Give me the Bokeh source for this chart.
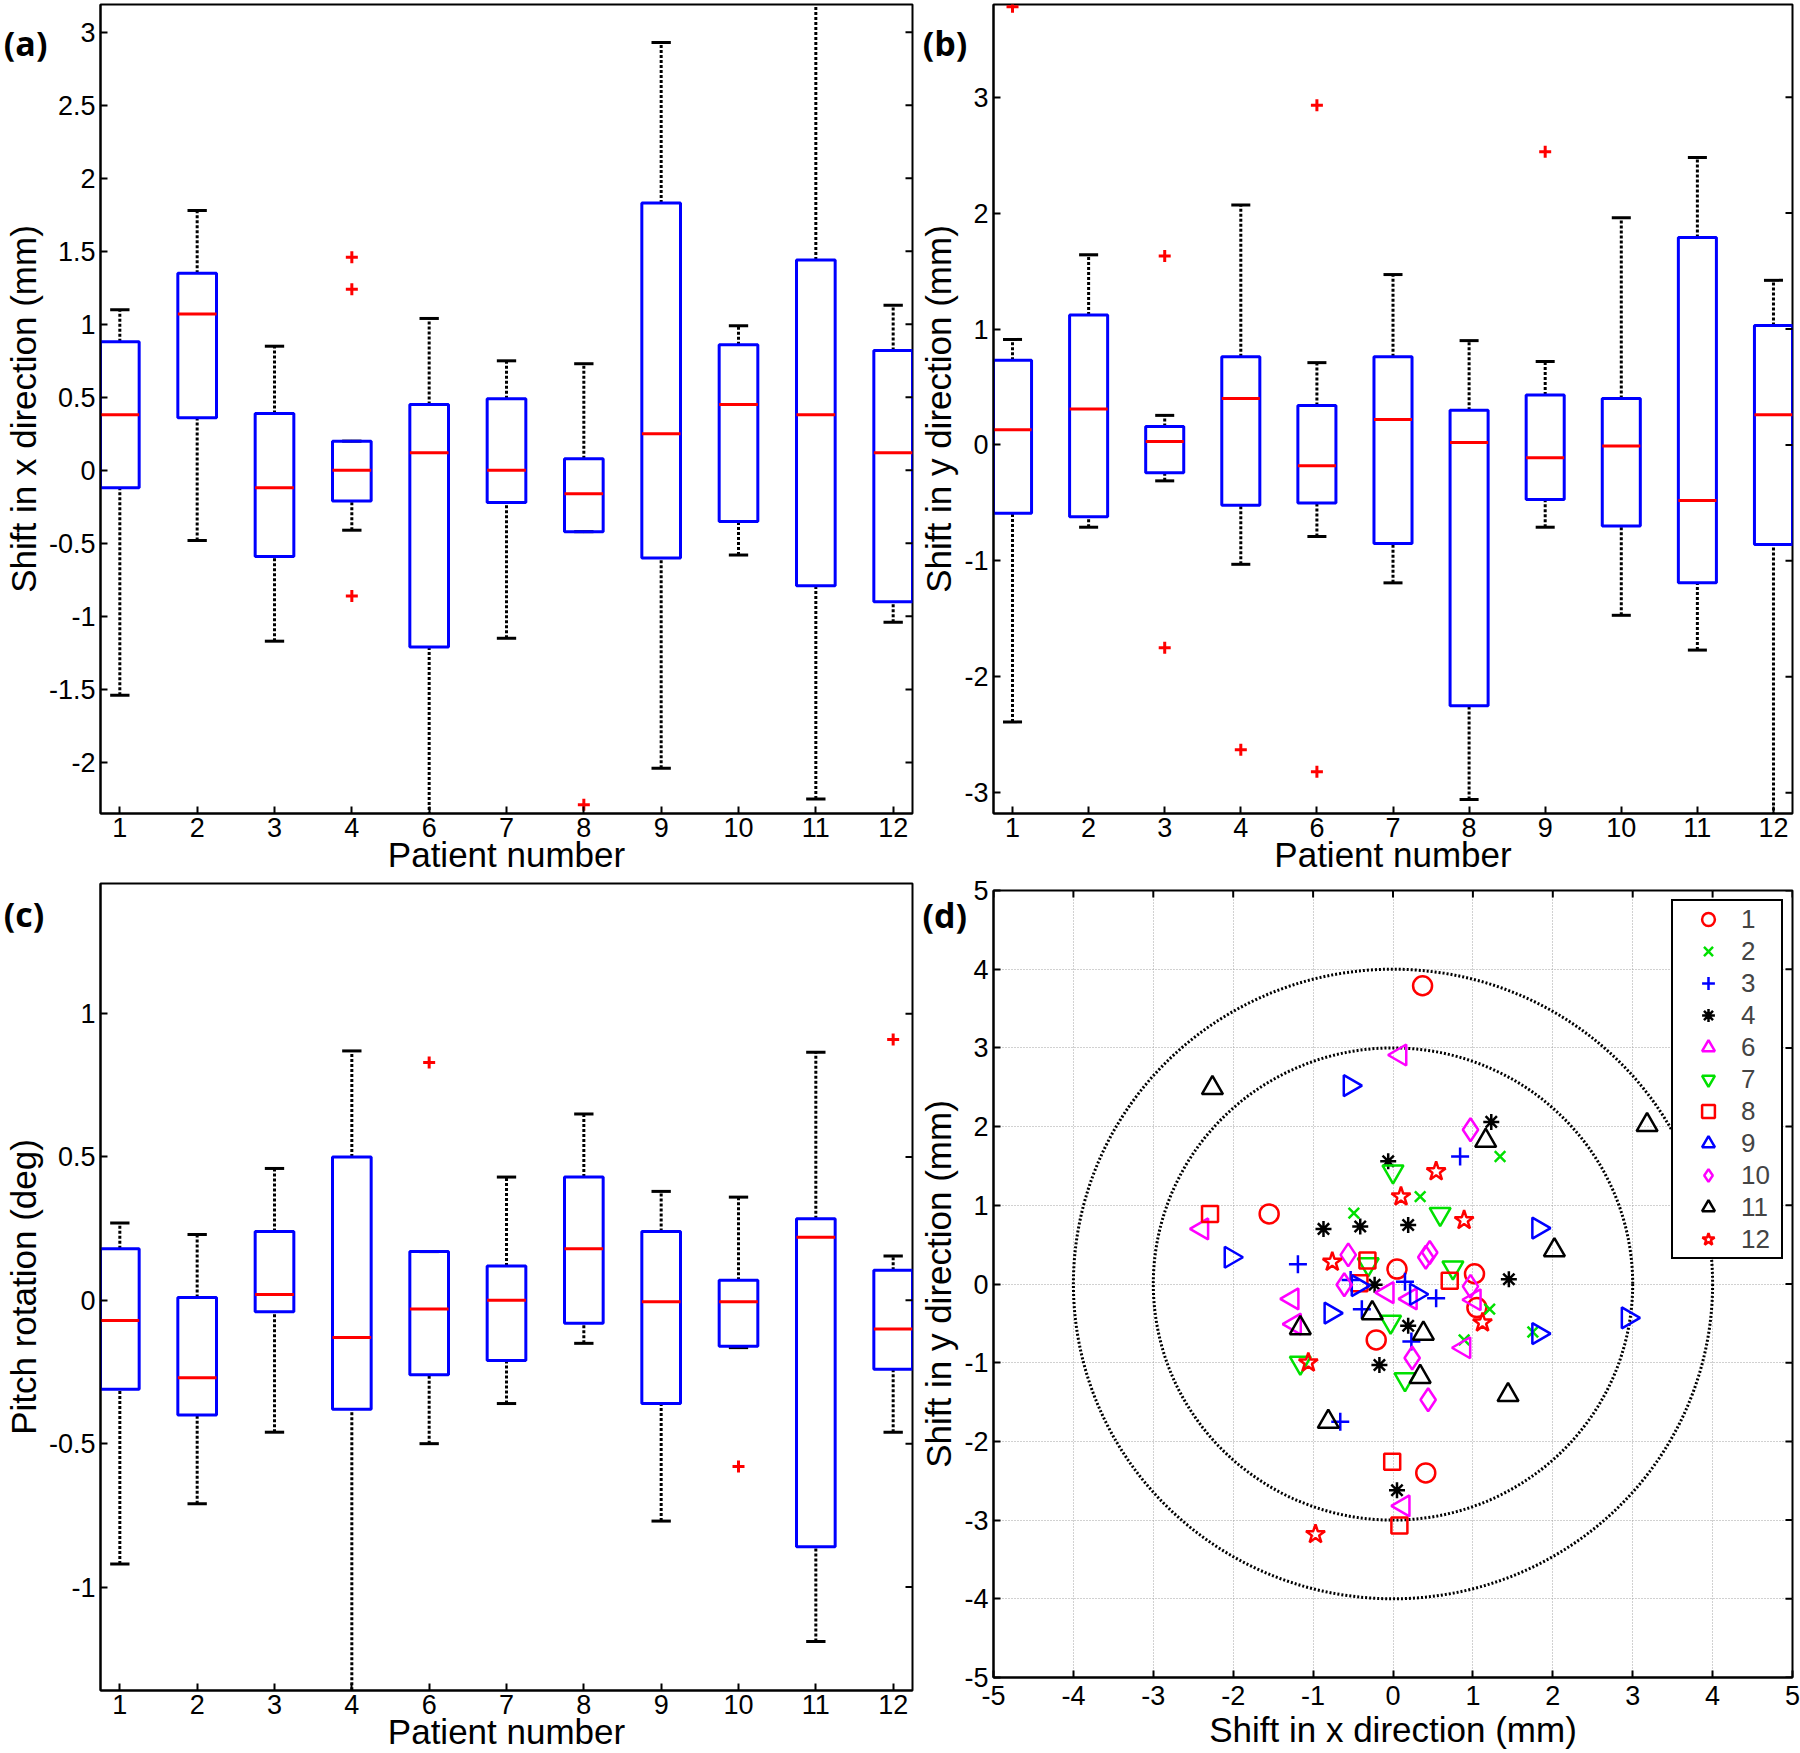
import numpy as np
from bokeh.plotting import figure
from bokeh.models import FixedTicker, CustomJSTickFormatter, ColumnDataSource
from bokeh.core.properties import value
from bokeh.layouts import row, column
from bokeh.embed import file_html
from bokeh.resources import INLINE

FONT = "Liberation Sans"
TAG_FONT = "Open Sans"

# ---------------- data ----------------
patients = ["1", "2", "3", "4", "6", "7", "8", "9", "10", "11", "12"]

# (a) shift in x direction (mm)
a_low = [-1.54, -0.48, -1.17, -0.41, -2.6, -1.15, -0.42, -2.04, -0.58, -2.25, -1.04]
a_q1 = [-0.12, 0.36, -0.59, -0.21, -1.21, -0.22, -0.42, -0.60, -0.35, -0.79, -0.90]
a_med = [0.38, 1.07, -0.12, 0.0, 0.12, 0.0, -0.16, 0.25, 0.45, 0.38, 0.12]
a_q3 = [0.88, 1.35, 0.39, 0.20, 0.45, 0.49, 0.08, 1.83, 0.86, 1.44, 0.82]
a_high = [1.10, 1.78, 0.85, 0.20, 1.04, 0.75, 0.73, 2.93, 0.99, 3.4, 1.13]
a_out_pat = ["4", "4", "4", "8"]
a_out_val = [1.46, 1.24, -0.86, -2.29]
a_yticks = [-2, -1.5, -1, -0.5, 0, 0.5, 1, 1.5, 2, 2.5, 3]

# (b) shift in y direction (mm)
b_low = [-2.39, -0.71, -0.31, -1.03, -0.79, -1.19, -3.06, -0.71, -1.47, -1.77, -3.5]
b_q1 = [-0.59, -0.62, -0.24, -0.52, -0.50, -0.85, -2.25, -0.47, -0.70, -1.19, -0.86]
b_med = [0.13, 0.31, 0.03, 0.40, -0.18, 0.22, 0.02, -0.11, -0.01, -0.48, 0.26]
b_q3 = [0.73, 1.12, 0.16, 0.76, 0.34, 0.76, 0.30, 0.43, 0.40, 1.79, 1.03]
b_high = [0.91, 1.64, 0.255, 2.07, 0.71, 1.47, 0.90, 0.72, 1.96, 2.48, 1.42]
b_out_pat = ["1", "3", "3", "4", "6", "6", "9"]
b_out_val = [3.78, 1.63, -1.75, -2.63, 2.93, -2.82, 2.53]
b_yticks = [-3, -2, -1, 0, 1, 2, 3]

# (c) pitch rotation (deg)
c_low = [-0.92, -0.71, -0.46, -1.5, -0.50, -0.36, -0.15, -0.77, -0.165, -1.19, -0.46]
c_q1 = [-0.31, -0.40, -0.04, -0.38, -0.26, -0.21, -0.08, -0.36, -0.16, -0.86, -0.24]
c_med = [-0.07, -0.27, 0.02, -0.13, -0.03, 0.0, 0.18, -0.005, -0.005, 0.22, -0.10]
c_q3 = [0.18, 0.01, 0.24, 0.50, 0.17, 0.12, 0.43, 0.24, 0.07, 0.285, 0.105]
c_high = [0.27, 0.23, 0.46, 0.87, 0.17, 0.43, 0.65, 0.38, 0.36, 0.865, 0.155]
c_out_pat = ["6", "10", "12"]
c_out_val = [0.83, -0.58, 0.91]
c_yticks = [-1, -0.5, 0, 0.5, 1]

# (d) scatter of shifts per patient (x mm, y mm)
d1_x = [0.37, -1.55, 0.05, 1.02, -0.21, 0.41, 1.05]
d1_y = [3.79, 0.89, 0.19, 0.13, -0.71, -2.40, -0.30]
d2_x = [1.34, 0.34, -0.49, 1.21, 0.89, 1.75]
d2_y = [1.62, 1.11, 0.90, -0.32, -0.71, -0.61]
d3_x = [0.84, -1.19, 0.15, 0.54, -0.39, -0.53, 0.23, -0.66]
d3_y = [1.62, 0.25, 0.03, -0.18, -0.32, 0.05, -0.73, -1.75]
d4_x = [1.23, -0.06, -0.87, -0.41, 0.19, 1.45, -0.23, 0.19, -0.17, 0.05]
d4_y = [2.06, 1.56, 0.70, 0.73, 0.75, 0.06, -0.01, -0.53, -1.03, -2.62]
d6_x = [0.09, -2.39, -1.26, -1.23, -0.07, 0.22, 0.89, 0.13, 1.02]
d6_y = [2.91, 0.70, -0.19, -0.51, -0.11, -0.19, -0.81, -2.82, -0.20]
d7_x = [0.0, 0.59, -0.31, 0.75, -0.03, -1.16, 0.15]
d7_y = [1.43, 0.89, 0.25, 0.21, -0.48, -1.0, -1.21]
d8_x = [-2.29, -0.32, -0.42, 0.71, -0.01, 0.08]
d8_y = [0.89, 0.30, 0.01, 0.04, -2.26, -3.07]
d9_x = [-0.54, -2.03, 1.82, -0.78, -0.44, 0.29, 1.82, 2.94]
d9_y = [2.52, 0.34, 0.71, -0.37, -0.02, -0.13, -0.63, -0.43]
d10_x = [0.97, -0.56, 0.46, 0.41, -0.61, 0.97, 0.24, 0.44]
d10_y = [1.96, 0.37, 0.40, 0.34, -0.01, -0.03, -0.94, -1.47]
d11_x = [-2.26, 3.18, 1.16, 2.02, -0.26, 0.38, -1.16, 0.34, 1.44, -0.81]
d11_y = [2.49, 2.02, 1.82, 0.43, -0.37, -0.63, -0.56, -1.18, -1.41, -1.75]
d12_x = [0.54, 0.10, 0.89, -0.76, 1.12, -1.06, -0.97]
d12_y = [1.43, 1.11, 0.81, 0.28, -0.49, -1.0, -3.18]
d_ticks = [-5, -4, -3, -2, -1, 0, 1, 2, 3, 4, 5]
circle_radii = [3, 4]

d_series = [
    ("1", d1_x, d1_y), ("2", d2_x, d2_y), ("3", d3_x, d3_y), ("4", d4_x, d4_y),
    ("6", d6_x, d6_y), ("7", d7_x, d7_y), ("8", d8_x, d8_y), ("9", d9_x, d9_y),
    ("10", d10_x, d10_y), ("11", d11_x, d11_y), ("12", d12_x, d12_y),
]

# marker styles (not data)
STYLE = {
    "1": dict(marker="circle", color="#FF0000", size=19, angle=0.0),
    "2": dict(marker="x", color="#00E000", size=15, angle=0.0),
    "3": dict(marker="cross", color="#0000FF", size=18, angle=0.0),
    "4": dict(marker="asterisk", color="black", size=16, angle=0.0),
    "6": dict(marker="triangle", color="#FF00FF", size=21, angle=np.pi / 2),
    "7": dict(marker="inverted_triangle", color="#00E000", size=21, angle=0.0),
    "8": dict(marker="square", color="#FF0000", size=16, angle=0.0),
    "9": dict(marker="triangle", color="#0000FF", size=21, angle=-np.pi / 2),
    "10": dict(marker="diamond", color="#FF00FF", size=23, angle=0.0),
    "11": dict(marker="triangle", color="black", size=21, angle=0.0),
    "12": dict(marker="star", color="#FF0000", size=20, angle=0.0),
}

# layout (pixels): left/right borders per column, top/bottom per panel row
COL1 = dict(left=99, frame=813, right=4, ylab_standoff=3)
COL2 = dict(left=76, frame=800, right=8, ylab_standoff=3)
ROW1 = dict(top=4, frame=809, bottom=62)
ROW2C = dict(top=8, frame=807, bottom=62)
ROW2D = dict(top=15, frame=787, bottom=75)


def num_fmt():
    return CustomJSTickFormatter(code="return String(Math.round(tick*1000)/1000);")


def make_fig(col, rw, xr, yr):
    return figure(width=col["left"] + col["frame"] + col["right"],
                  height=rw["top"] + rw["frame"] + rw["bottom"],
                  x_range=xr, y_range=yr, output_backend="svg",
                  toolbar_location=None, tools="",
                  min_border_left=col["left"], min_border_right=col["right"],
                  min_border_top=rw["top"], min_border_bottom=rw["bottom"])


def style_axes(p, yticks, ylab, ylab_standoff, xtick_standoff):
    for ax in (p.xaxis[0], p.yaxis[0]):
        ax.axis_line_color = "black"
        ax.axis_line_width = 2
        ax.major_tick_line_color = "black"
        ax.major_tick_line_width = 2
        ax.major_tick_in = 7
        ax.major_tick_out = 0
        ax.minor_tick_line_color = None
        ax.major_label_text_font = FONT
        ax.major_label_text_font_size = "27px"
        ax.major_label_text_color = "black"
        ax.axis_label_text_font = FONT
        ax.axis_label_text_font_size = "35px"
        ax.axis_label_text_font_style = "normal"
        ax.axis_label_text_color = "black"
    p.yaxis[0].ticker = FixedTicker(ticks=yticks)
    p.yaxis[0].formatter = num_fmt()
    p.yaxis[0].major_label_standoff = 5
    p.yaxis[0].axis_label = ylab
    p.yaxis[0].axis_label_standoff = ylab_standoff
    p.xaxis[0].major_label_standoff = xtick_standoff
    p.outline_line_color = "black"
    p.outline_line_width = 2
    p.outline_line_alpha = 1.0
    p.background_fill_color = "white"
    p.border_fill_color = "white"


def overlay_text(p, x, y, text, font, size, bold, align):
    r = p.text(x=[x], y=[y], text=[text], text_font=value(font),
               text_font_size=size, text_font_style="bold" if bold else "normal",
               text_baseline="middle", text_align=align, text_color="black")
    r.level = "overlay"
    return r


def x_title(p, xr, yr, frame_h, px_below, text):
    units_per_px = (yr[1] - yr[0]) / frame_h
    overlay_text(p, (xr[0] + xr[1]) / 2, yr[0] - px_below * units_per_px, text,
                 FONT, "35px", False, "center")


def box_panel(col, rw, yr, low, q1, med, q3, high, out_pat, out_val,
              yticks, ylab, tag, tag_xy, title_px):
    xr = (0.75, 11.25)
    p = make_fig(col, rw, xr, yr)
    pos = np.arange(1, len(patients) + 1)
    src = ColumnDataSource(dict(
        x=pos, low=low, q1=q1, med=med, q3=q3, high=high,
        bl=pos - 0.25, br=pos + 0.25, cl=pos - 0.125, cr=pos + 0.125))
    p.segment(x0="x", y0="q3", x1="x", y1="high", source=src,
              line_color="black", line_width=3, line_dash="3 2")
    p.segment(x0="x", y0="low", x1="x", y1="q1", source=src,
              line_color="black", line_width=3, line_dash="3 2")
    p.segment(x0="cl", y0="high", x1="cr", y1="high", source=src,
              line_color="black", line_width=3)
    p.segment(x0="cl", y0="low", x1="cr", y1="low", source=src,
              line_color="black", line_width=3)
    p.vbar(x="x", width=0.5, top="q3", bottom="q1", source=src,
           fill_color=None, line_color="#0000FF", line_width=3)
    p.segment(x0="bl", y0="med", x1="br", y1="med", source=src,
              line_color="#FF0000", line_width=3)
    out_x = [patients.index(s) + 1 for s in out_pat]
    p.scatter(x=out_x, y=out_val, marker="cross", size=12, line_color="#FF0000",
              line_width=3)
    # inward ticks on the right edge
    p.scatter(x=[xr[1]] * len(yticks), y=yticks, marker="dash", size=14,
              line_color="black", line_width=2)
    style_axes(p, yticks, ylab, col["ylab_standoff"], 4)
    p.xaxis[0].ticker = FixedTicker(ticks=list(pos))
    p.xaxis[0].formatter = CustomJSTickFormatter(
        args=dict(labels=patients), code="return labels[Math.round(tick) - 1];")
    p.xgrid.visible = False
    p.ygrid.visible = False
    x_title(p, xr, yr, rw["frame"], title_px, "Patient number")
    overlay_text(p, tag_xy[0], tag_xy[1], tag, TAG_FONT, "34px", True, "left")
    return p


fa = box_panel(COL1, ROW1, (-2.35, 3.19), a_low, a_q1, a_med, a_q3, a_high,
               a_out_pat, a_out_val, a_yticks, "Shift in x direction (mm)", "(a)",
               (-0.50, 2.926), 41)
fb = box_panel(COL2, ROW1, (-3.18, 3.80), b_low, b_q1, b_med, b_q3, b_high,
               b_out_pat, b_out_val, b_yticks, "Shift in y direction (mm)", "(b)",
               (-0.18, 3.47), 41)
fc = box_panel(COL1, ROW2C, (-1.361, 1.454), c_low, c_q1, c_med, c_q3, c_high,
               c_out_pat, c_out_val, c_yticks, "Pitch rotation (deg)", "(c)",
               (-0.50, 1.346), 41)

# (d)
d_xr = (-5, 5)
d_yr = (-5, 5)
fd = make_fig(COL2, ROW2D, d_xr, d_yr)
fd.ellipse(x=[0] * len(circle_radii), y=[0] * len(circle_radii),
           width=[2 * r for r in circle_radii], height=[2 * r for r in circle_radii],
           fill_color=None, line_color="black", line_width=3, line_dash="2 2")
for name, xs, ys in d_series:
    st = STYLE[name]
    fd.scatter(x=xs, y=ys, marker=st["marker"], size=st["size"], angle=st["angle"],
               line_color=st["color"], fill_color=None, line_width=2.5,
               legend_label=name)
# inward ticks on right and top edges
fd.scatter(x=[d_xr[1]] * len(d_ticks), y=d_ticks, marker="dash", size=14,
           line_color="black", line_width=2)
fd.scatter(x=d_ticks, y=[d_yr[1]] * len(d_ticks), marker="dash", size=14,
           angle=np.pi / 2, line_color="black", line_width=2)
style_axes(fd, d_ticks, "Shift in y direction (mm)", COL2["ylab_standoff"], 8)
fd.xaxis[0].ticker = FixedTicker(ticks=d_ticks)
fd.xaxis[0].formatter = num_fmt()
fd.xgrid.ticker = FixedTicker(ticks=d_ticks)
fd.ygrid.ticker = FixedTicker(ticks=d_ticks)
for g in (fd.xgrid[0], fd.ygrid[0]):
    g.grid_line_color = "#9a9a9a"
    g.grid_line_width = 1
    g.grid_line_dash = "1 2"
    g.grid_line_alpha = 0.9
x_title(fd, d_xr, d_yr, ROW2D["frame"], 52, "Shift in x direction (mm)")
overlay_text(fd, -5.89, 4.695, "(d)", TAG_FONT, "34px", True, "left")

lg = fd.legend[0]
lg.location = "top_right"
lg.margin = 9
lg.border_line_color = "black"
lg.border_line_width = 2
lg.border_line_alpha = 1.0
lg.background_fill_color = "white"
lg.background_fill_alpha = 1.0
lg.label_text_font = FONT
lg.label_text_font_size = "26px"
lg.glyph_width = 66
lg.glyph_height = 32
lg.label_height = 32
lg.label_width = 38
lg.label_standoff = 0
lg.spacing = 0
lg.padding = 2

layout = column(row(fa, fb), row(column(fc), column(fd)))
open("out.html", "w").write(file_html(layout, INLINE))
